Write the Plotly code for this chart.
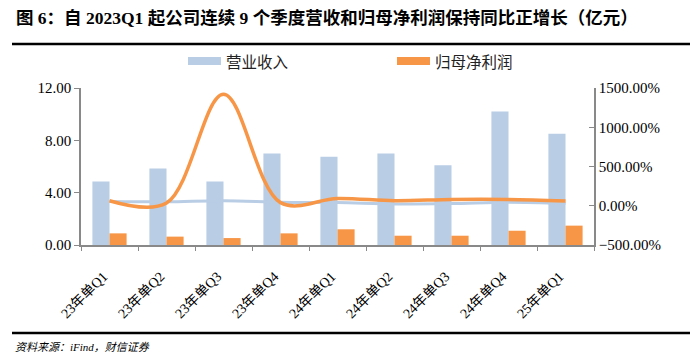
import plotly.graph_objects as go

categories = ["23年单Q1", "23年单Q2", "23年单Q3", "23年单Q4", "24年单Q1",
              "24年单Q2", "24年单Q3", "24年单Q4", "25年单Q1"]
revenue = [4.85, 5.85, 4.85, 7.0, 6.75, 7.0, 6.1, 10.2, 8.5]
net_profit = [0.89, 0.64, 0.53, 0.89, 1.2, 0.71, 0.71, 1.09, 1.48]
revenue_yoy = [55, 50, 65, 45, 40, 22, 28, 46, 28]
profit_yoy = [64, 35, 1420, 40, 93, 64, 80, 80, 60]
series_names = ["营业收入", "归母净利润"]

BLUE = "#B9CDE5"
ORANGE = "#F79646"
AXIS = "#898989"
FONT = "Times New Roman, Liberation Serif, Noto Sans CJK SC"

fig = go.Figure()
fig.add_trace(go.Bar(x=categories, y=revenue, name=series_names[0], marker_color=BLUE,
                     marker_line_width=0, showlegend=False))
fig.add_trace(go.Bar(x=categories, y=net_profit, name=series_names[1], marker_color=ORANGE,
                     marker_line_width=0, showlegend=False))
fig.add_trace(go.Scatter(x=categories, y=revenue_yoy, yaxis="y2", mode="lines",
                         line=dict(color=BLUE, width=3, shape="spline", smoothing=1),
                         showlegend=False))
fig.add_trace(go.Scatter(x=categories, y=profit_yoy, yaxis="y2", mode="lines",
                         line=dict(color=ORANGE, width=3.5, shape="spline", smoothing=1),
                         showlegend=False))

# The page body has an 8px margin; work in page pixels and convert.
OFF = 8
FW, FH = 700 - OFF, 363 - OFF
# plot area in page pixels: x 81..594, y 88..245
L, R, T, B = 81, 594, 88, 245
W, H = R - L, B - T
px = lambda x: (x - L) / W
py = lambda y: (B - y) / H

shapes = [
    dict(type="line", xref="paper", yref="paper", x0=px(12), x1=px(690),
         y0=py(44), y1=py(44), line=dict(color="black", width=2.5)),
    dict(type="line", xref="paper", yref="paper", x0=px(12), x1=px(690),
         y0=py(333), y1=py(333), line=dict(color="black", width=2.5)),
]
annotations = [
    dict(text="<b>图 6：自 2023Q1 起公司连续 9 个季度营收和归母净利润保持同比正增长（亿元）</b>",
         xref="paper", yref="paper", x=px(14), y=py(18), xanchor="left",
         yanchor="middle", showarrow=False,
         font=dict(size=17.5, family=FONT, color="black")),
    dict(text="<i>资料来源：iFind，财信证券</i>", xref="paper", yref="paper",
         x=px(13), y=py(347), xanchor="left", yanchor="middle", showarrow=False,
         font=dict(size=11, family=FONT, color="black")),
]
# legend (wide swatches as in the reference)
for name, col, x0 in [(series_names[0], BLUE, 188), (series_names[1], ORANGE, 397)]:
    shapes.append(dict(type="rect", xref="paper", yref="paper", x0=px(x0), x1=px(x0 + 33),
                       y0=py(57), y1=py(65), fillcolor=col, line=dict(width=0)))
    annotations.append(dict(text=name, xref="paper", yref="paper", x=px(x0 + 36),
                            y=py(61), xanchor="left", yanchor="middle", showarrow=False,
                            font=dict(size=15.5, family="Noto Sans CJK SC", color="#222222")))

fig.update_layout(
    width=FW, height=FH,
    margin=dict(l=L - OFF, r=700 - R, t=T - OFF, b=363 - B, autoexpand=False),
    paper_bgcolor="white", plot_bgcolor="white",
    barmode="group", bargap=0.4, bargroupgap=0,
    font=dict(family=FONT, size=15, color="black"),
    showlegend=False,
    xaxis=dict(showline=True, linecolor=AXIS, linewidth=1.5, ticks="outside",
               tickson="boundaries", ticklen=4, tickcolor=AXIS, tickangle=-45,
               ticklabelshift=-6, ticklabelstandoff=16, automargin=False,
               tickfont=dict(size=14, family=FONT), showgrid=False, fixedrange=True),
    yaxis=dict(range=[0, 12], dtick=4, tickformat=".2f", showline=True, linecolor=AXIS,
               linewidth=1.5, ticks="outside", ticklen=5, tickcolor=AXIS, automargin=False,
               showgrid=False, zeroline=False, tickfont=dict(size=15)),
    yaxis2=dict(range=[-500, 1500], dtick=500, tickformat=".2f", ticksuffix="%",
                overlaying="y", side="right", showline=True, linecolor=AXIS,
                linewidth=1.5, ticks="inside", ticklen=5, tickcolor=AXIS, automargin=False,
                showgrid=False, zeroline=False, tickfont=dict(size=15)),
    shapes=shapes,
    annotations=annotations,
)

fig.write_html("out.html")
